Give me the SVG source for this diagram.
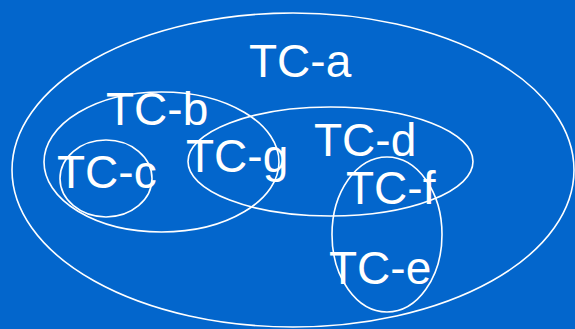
<svg xmlns="http://www.w3.org/2000/svg" width="575" height="329" viewBox="0 0 575 329">
<style>
.set{fill:none;stroke:#fff;stroke-width:1.6}
.lbl{fill:#fff;font-family:"Liberation Sans",Arial,sans-serif;font-size:46px}
</style>
<rect x="0" y="0" width="575" height="329" fill="#0366cc"/>
<g id="tc-a"><ellipse class="set" cx="293" cy="170" rx="281" ry="157"/><text class="lbl" x="249" y="77">TC-a</text></g>
<g id="tc-b"><ellipse class="set" cx="161.5" cy="162" rx="117.5" ry="70"/><text class="lbl" x="106" y="125">TC-b</text></g>
<g id="tc-c"><ellipse class="set" cx="106" cy="178.5" rx="46" ry="38.5"/><text class="lbl" x="57" y="188">TC-c</text></g>
<g id="tc-d"><ellipse class="set" cx="330.5" cy="161.5" rx="142.5" ry="54.5"/><text class="lbl" x="314" y="156">TC-d</text></g>
<g id="tc-g"><text class="lbl" x="186" y="172">TC-g</text></g>
<g id="tc-e"><ellipse class="set" cx="387" cy="234.5" rx="55" ry="77.5"/><text class="lbl" x="329" y="284">TC-e</text></g>
<g id="tc-f"><text class="lbl" x="346" y="204">TC-f</text></g>
<g id="connectors"/>
</svg>
